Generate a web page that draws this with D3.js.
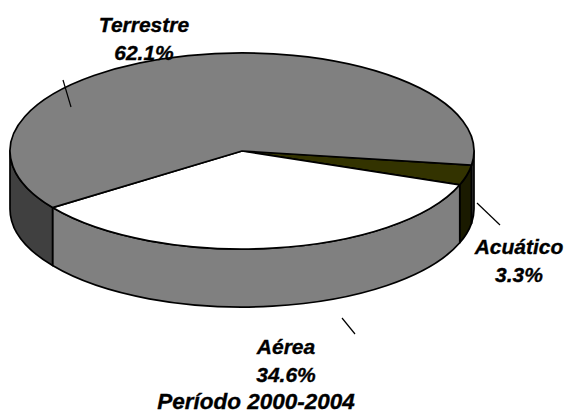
<!DOCTYPE html>
<html>
<head>
<meta charset="utf-8">
<script src="https://cdn.jsdelivr.net/npm/d3@7"></script>
<style>
  body { margin: 0; background: #fff; }
  .lbl { font-family: "Liberation Sans", Arial, sans-serif; font-weight: bold; font-style: italic; fill: #000; stroke: #000; stroke-width: 0.35px; }
</style>
</head>
<body>
<div id="viz"></div>
<script>
// data, clockwise from the right edge of the pie
let categories = ["Acuático", "Aérea", "Terrestre"];
let percents = [3.3, 34.6, 62.1];
let top_colors = ["#333300", "#ffffff", "#808080"];
let side_colors = ["#1a1a00", "#808080", "#404040"];
let title_text = "Período 2000-2004";

let W = 564, H = 413;
let cx = 242, cy = 151, rx = 232, ry = 98, depth = 58;
let start_t = 8.3 * Math.PI / 180; // screen angle where first slice begins

// label anchors and leader lines (layout only)
let label_pos = {
    "Acuático": {x: 519, y: 254, line: [[477, 203], [500, 225]]},
    "Aérea": {x: 286, y: 354, line: [[342, 318], [355, 334]]},
    "Terrestre": {x: 144, y: 32, line: [[63, 80], [71, 107]]}
};

let svg = d3.select("#viz").append("svg")
    .attr("width", W)
    .attr("height", H);

let pie = d3.pie().sort(null).value(d => d.value)
    .startAngle(start_t + Math.PI / 2)
    .endAngle(start_t + Math.PI / 2 + 2 * Math.PI);

let slices = pie(categories.map((c, i) => ({label: c, value: percents[i], i: i})));
// convert d3 angles (from 12 o'clock) to screen parametric angles (from 3 o'clock)
slices.forEach(s => { s.a = s.startAngle - Math.PI / 2; s.b = s.endAngle - Math.PI / 2; });

function pt(t, dy) {
    return [cx + rx * Math.cos(t), cy + ry * Math.sin(t) + (dy || 0)];
}

function top_path(a, b) {
    let p0 = pt(a), p1 = pt(b);
    let large = (b - a) > Math.PI ? 1 : 0;
    return "M" + cx + "," + cy + "L" + p0 + "A" + rx + "," + ry + " 0 " + large + " 1 " + p1 + "Z";
}

function wall_path(a, b) {
    let p0 = pt(a), p1 = pt(b), p2 = pt(b, depth), p3 = pt(a, depth);
    return "M" + p0 + "A" + rx + "," + ry + " 0 0 1 " + p1 +
        "L" + p2 + "A" + rx + "," + ry + " 0 0 0 " + p3 + "Z";
}

// front walls: only the parts with sin(t) > 0 are seen
let walls = [];
slices.forEach(s => {
    [[0, Math.PI], [2 * Math.PI, 3 * Math.PI]].forEach(v => {
        let a = Math.max(s.a, v[0]), b = Math.min(s.b, v[1]);
        if (b > a) walls.push({a: a, b: b, i: s.data.i});
    });
});

svg.selectAll(".wall")
    .data(walls)
    .enter().append("path")
    .attr("class", "wall")
    .attr("d", d => wall_path(d.a, d.b))
    .attr("fill", d => side_colors[d.i])
    .attr("stroke", "#000")
    .attr("stroke-width", 1.7)
    .attr("stroke-linejoin", "round");

svg.selectAll(".top")
    .data(slices)
    .enter().append("path")
    .attr("class", "top")
    .attr("d", d => top_path(d.a, d.b))
    .attr("fill", d => top_colors[d.data.i])
    .attr("stroke", "#000")
    .attr("stroke-width", 1.7)
    .attr("stroke-linejoin", "round");

// leader lines
svg.selectAll(".leader")
    .data(slices)
    .enter().append("line")
    .attr("class", "leader")
    .attr("x1", d => label_pos[d.data.label].line[0][0])
    .attr("y1", d => label_pos[d.data.label].line[0][1])
    .attr("x2", d => label_pos[d.data.label].line[1][0])
    .attr("y2", d => label_pos[d.data.label].line[1][1])
    .attr("stroke", "#000")
    .attr("stroke-width", 1.2);

let labels = svg.selectAll(".lblg")
    .data(slices)
    .enter().append("text")
    .attr("class", "lbl")
    .attr("text-anchor", "middle")
    .style("font-size", "21px")
    .attr("x", d => label_pos[d.data.label].x)
    .attr("y", d => label_pos[d.data.label].y);

labels.append("tspan")
    .text(d => d.data.label);

labels.append("tspan")
    .attr("x", d => label_pos[d.data.label].x)
    .attr("dy", 28)
    .text(d => d.data.value.toFixed(1) + "%");

svg.append("text")
    .attr("class", "lbl")
    .attr("text-anchor", "middle")
    .style("font-size", "22.5px")
    .attr("x", 256)
    .attr("y", 409)
    .text(title_text);
</script>
</body>
</html>
